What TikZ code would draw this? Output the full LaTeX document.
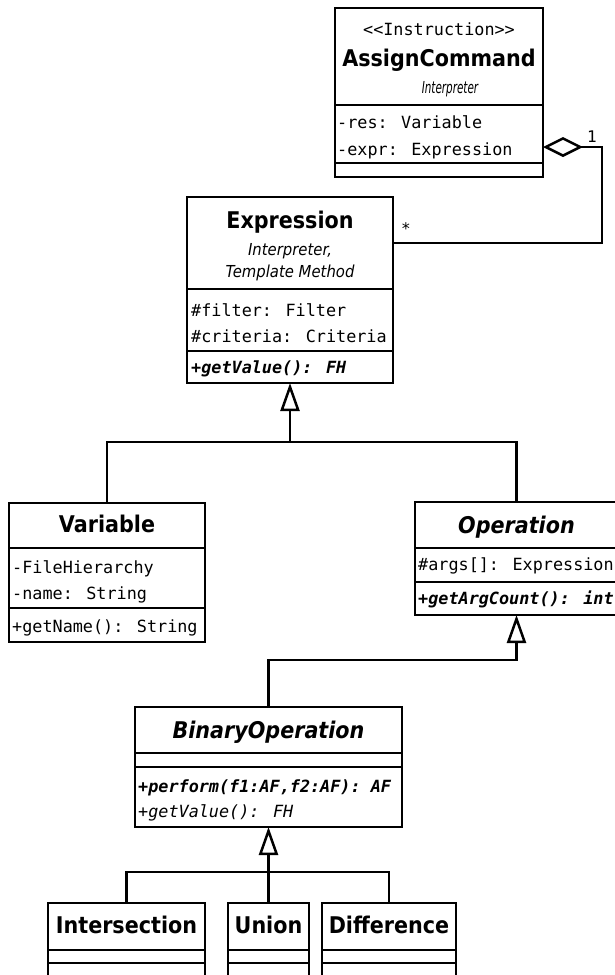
\documentclass[tikz,border=0pt]{standalone}
\usepackage{fontspec}
\setmainfont{DejaVu Sans}[FakeStretch=0.9]
\newfontfamily\umlmono{DejaVu Sans Mono}
\usetikzlibrary{arrows.meta}

\begin{document}
\begin{tikzpicture}[x=1pt,y=-1pt,
  classbox/.style={draw, line width=2.9pt, anchor=north west, inner sep=0pt, outer sep=0pt},
  divider/.style={line width=2.6pt},
  classname/.style={font=\bfseries\fontsize{23}{23}\selectfont, anchor=base, inner sep=0pt},
  absname/.style={font=\bfseries\itshape\fontsize{23}{23}\selectfont, anchor=base, inner sep=0pt},
  pattern/.style={font=\itshape\fontsize{16.5}{16.5}\selectfont, anchor=base, inner sep=0pt},
  stereo/.style={font=\umlmono\fontsize{16.8}{16.8}\selectfont, anchor=base, inner sep=0pt},
  member/.style={font=\umlmono\fontsize{16.8}{16.8}\selectfont, anchor=base west, inner sep=0pt},
  absmethod/.style={font=\umlmono\bfseries\itshape\fontsize{16.8}{16.8}\selectfont, anchor=base west, inner sep=0pt},
  method/.style={font=\umlmono\itshape\fontsize{16.8}{16.8}\selectfont, anchor=base west, inner sep=0pt},
  mult/.style={font=\umlmono\fontsize{16}{16}\selectfont, inner sep=0pt},
  conn/.style={line width=2.5pt},
  gen/.style={conn, -{Triangle[open, length=28pt, width=19pt]}},
  agg/.style={conn, -{Diamond[open, length=40pt, width=20pt]}}
]
\useasboundingbox (0,0) rectangle (614,975);

% ---------- AssignCommand ----------
\node[classbox, minimum width=208pt, minimum height=169pt] (ac) at (335,8) {};
\draw[divider] (335,105) -- (543,105);
\draw[divider] (335,163) -- (543,163);
\node[stereo] (acst) at (439,35) {<<Instruction>>};
\node[classname] (acname) at (439,66) {AssignCommand};
\node[pattern] (acpat) at (450,93) {\scalebox{0.7}[1]{Interpreter}};
\node[member] (acres) at (337,128) {-res: Variable};
\node[member] (acexpr) at (337,155) {-expr: Expression};

% ---------- Expression ----------
\node[classbox, minimum width=206pt, minimum height=186pt] (ex) at (187,197) {};
\draw[divider] (187,289) -- (393,289);
\draw[divider] (187,351) -- (393,351);
\node[classname] (exname) at (290,228) {Expression};
\node[pattern] (expat1) at (290,255) {Interpreter,};
\node[pattern] (expat2) at (290,277) {Template Method};
\node[member] (exfilter) at (191,316) {\#filter: Filter};
\node[member] (excrit) at (191,342) {\#criteria: Criteria};
\node[absmethod] (exget) at (191,373) {+getValue(): FH};

% ---------- Variable ----------
\node[classbox, minimum width=196pt, minimum height=139pt] (var) at (9,503) {};
\draw[divider] (9,548) -- (205,548);
\draw[divider] (9,608) -- (205,608);
\node[classname] (varname) at (107,532) {Variable};
\node[member] (varfh) at (12,573) {-FileHierarchy};
\node[member] (varnm) at (12,599) {-name: String};
\node[member] (varget) at (12,632) {+getName(): String};

% ---------- Operation ----------
\node[classbox, minimum width=203pt, minimum height=113pt] (op) at (415,502) {};
\draw[divider] (415,548) -- (618,548);
\draw[divider] (415,582) -- (618,582);
\node[absname] (opname) at (516.5,533) {Operation};
\node[member] (opargs) at (418,570) {\#args[]: Expression};
\node[absmethod] (opcount) at (418,604) {+getArgCount(): int};

% ---------- BinaryOperation ----------
\node[classbox, minimum width=267pt, minimum height=120pt] (bo) at (135,707) {};
\draw[divider] (135,753) -- (402,753);
\draw[divider] (135,767) -- (402,767);
\node[absname] (boname) at (268.5,738) {BinaryOperation};
\node[absmethod] (boperf) at (138,792) {+perform(f1:AF,f2:AF): AF};
\node[method] (boget) at (138,817) {+getValue(): FH};

% ---------- Intersection / Union / Difference ----------
\node[classbox, minimum width=157pt, minimum height=90pt] (inter) at (48,903) {};
\draw[divider] (48,950) -- (205,950);
\draw[divider] (48,963) -- (205,963);
\node[classname] (intername) at (126.5,933) {Intersection};

\node[classbox, minimum width=81pt, minimum height=90pt] (union) at (228,903) {};
\draw[divider] (228,950) -- (309,950);
\draw[divider] (228,963) -- (309,963);
\node[classname] (unionname) at (268.5,933) {Union};

\node[classbox, minimum width=134pt, minimum height=90pt] (diff) at (322,903) {};
\draw[divider] (322,950) -- (456,950);
\draw[divider] (322,963) -- (456,963);
\node[classname] (diffname) at (389,933) {Difference};

% ---------- aggregation AssignCommand <>-- Expression ----------
\coordinate (acagg) at (543,147);
\coordinate (exagg) at (393,243);
\coordinate (aggc1) at (602,243);
\coordinate (aggc2) at (602,147);
\draw[agg] (exagg) -- (aggc1) -- (aggc2) -- (acagg);
\node[mult] (one) at (592,137) {1};
\node[mult] (many) at (406,229) {*};

% ---------- generalisations ----------
\coordinate (j1) at (290,442);
\draw[gen] (var.north) |- (j1) -- (ex.south);
\draw[conn] (op.north) |- (j1);

\coordinate (j2) at (516.5,660);
\draw[gen] (bo.north) |- (j2) -- (op.south);

\coordinate (j3) at (268.5,872);
\draw[gen] (union.north) -- (bo.south);
\draw[conn] (inter.north) |- (j3) -| (diff.north);
\end{tikzpicture}
\end{document}
